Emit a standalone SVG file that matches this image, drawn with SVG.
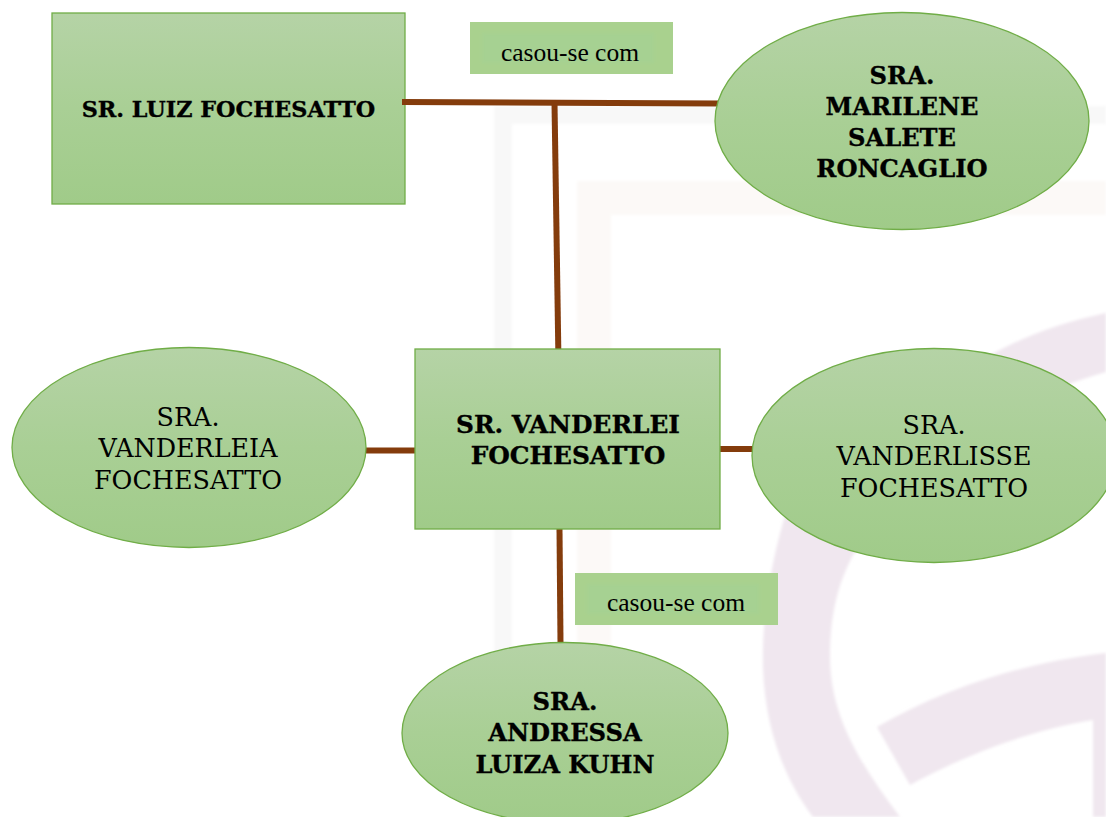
<svg xmlns="http://www.w3.org/2000/svg" width="1106" height="817" viewBox="0 0 1106 817">
<defs>
<linearGradient id="g" x1="0" y1="0" x2="0" y2="1"><stop offset="0" stop-color="#b5d3a6"/><stop offset="0.5" stop-color="#a9cf95"/><stop offset="1" stop-color="#a0cb89"/></linearGradient>
<filter id="soft" x="-5%" y="-5%" width="110%" height="110%"><feGaussianBlur stdDeviation="1.6"/></filter>
</defs>
<style>
.n{fill:url(#g);stroke:#70ad47;stroke-width:1.3}
.l{fill:#a9d18e}
.p{fill:#a6d192}
.b{font-family:"DejaVu Serif","Liberation Serif",serif;font-weight:bold;font-size:24.200px;text-anchor:middle;fill:#000;stroke:#000;stroke-width:.35}
.r{font:25.400px "DejaVu Serif","Liberation Serif",serif;text-anchor:middle;fill:#000}
.c{font:25.500px "Liberation Serif",serif;text-anchor:middle;fill:#000}
.w{fill:none}
.m{fill:#f0e7ef}
.e{stroke:#843c0c;stroke-width:6;fill:none}
</style>
<g id="watermark" filter="url(#soft)">
<path class="w" d="M1106 115H503V817" stroke="#f8f8f8" stroke-width="18"/>
<path class="w" d="M1106 198H594V817" stroke="#fcf9f7" stroke-width="34"/>
<path class="m" d="M1106 313C1050 325 1000 345 960 375L790 500C770 560 762 620 763 667C765 730 785 780 813 817H900C865 770 830 720 830 657C830 610 840 580 853 555L960 440C1000 410 1060 385 1106 372Z"/>
<path class="m" d="M877 727C950 685 1030 662 1106 653V817H1093V720C1030 730 965 755 910 785Z"/>
</g>
<g id="luiz"><rect class="n" x="52" y="13" width="353" height="191"/><text class="b" style="font-size:22.300px" x="228.500" y="117">SR. LUIZ FOCHESATTO</text></g>
<g id="connectors">
<path class="e" d="M402 102L718 103.500"/>
<path class="e" d="M554.500 103L558.300 349"/>
<path class="e" d="M366 450.500L415 450.500"/>
<path class="e" d="M720 449H753"/>
<path class="e" d="M559.500 529L560.500 643"/>
</g>
<g id="label-1"><rect class="l" x="470" y="22" width="203" height="52"/><rect class="p" x="482" y="33" width="172" height="30" filter="url(#soft)"/><text class="c" x="570" y="61">casou-se com</text></g>
<g id="label-2"><rect class="l" x="575" y="573" width="203" height="52"/><rect class="p" x="587" y="584" width="172" height="30" filter="url(#soft)"/><text class="c" x="676" y="611">casou-se com</text></g>
<g id="marilene"><ellipse class="n" cx="902" cy="121" rx="187" ry="108.500"/>
<text class="b" x="902" y="84">SRA.</text><text class="b" x="902" y="115">MARILENE</text><text class="b" x="902" y="146">SALETE</text><text class="b" x="902" y="177">RONCAGLIO</text></g>
<g id="vanderleia"><ellipse class="n" cx="189" cy="447.500" rx="177" ry="100"/>
<text class="r" x="188" y="426">SRA.</text><text class="r" x="188" y="457">VANDERLEIA</text><text class="r" x="188" y="488.500">FOCHESATTO</text></g>
<g id="vanderlei"><rect class="n" x="415" y="349" width="305" height="180"/>
<text class="b" style="font-size:24.800px" x="568" y="433">SR. VANDERLEI</text><text class="b" style="font-size:24.800px" x="568" y="464">FOCHESATTO</text></g>
<g id="vanderlisse"><ellipse class="n" cx="934" cy="455.500" rx="182" ry="107"/>
<text class="r" x="934" y="434">SRA.</text><text class="r" x="934" y="465">VANDERLISSE</text><text class="r" x="934" y="497">FOCHESATTO</text></g>
<g id="andressa"><ellipse class="n" cx="565" cy="733" rx="163" ry="90.500"/>
<text class="b" x="565" y="710">SRA.</text><text class="b" x="565" y="741">ANDRESSA</text><text class="b" x="565" y="772.500">LUIZA KUHN</text></g>
</svg>
